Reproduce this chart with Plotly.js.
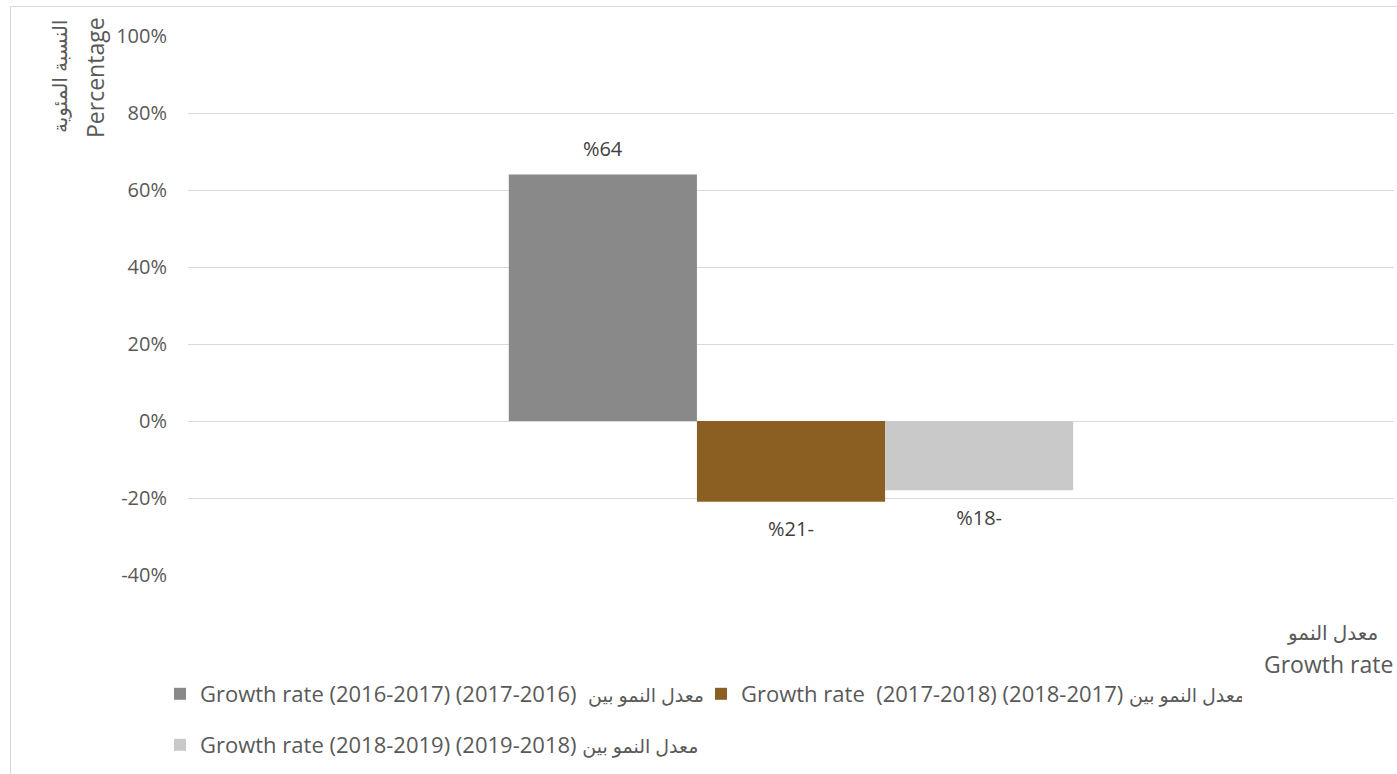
<!DOCTYPE html>
<html>
<head>
<meta charset="utf-8">
<script src="https://cdn.plot.ly/plotly-3.0.1.min.js"></script>
<style>
  html, body { margin: 0; padding: 0; background: #fff; overflow: hidden; }
  #wrap { position: relative; width: 1397px; height: 774px; overflow: hidden; }
  #frame { position: absolute; left: 10px; top: 6px; width: 1400px; height: 800px;
           border: 1px solid #d9d9d9; box-sizing: border-box; pointer-events: none; }
  #chart { position: absolute; left: 0; top: 0; width: 1397px; height: 774px; }
</style>
</head>
<body>
<div id="wrap">
  <div id="chart"></div>
  <div id="frame"></div>
</div>
<script>
// ---- data ----
const categories = ['معدل النمو Growth rate'];
const seriesLatin = [
  'Growth rate (2016-2017) (2017-2016)\u00a0\u00a0',
  'Growth rate\u00a0\u00a0(2017-2018) (2018-2017) ',
  'Growth rate (2018-2019) (2019-2018) '
];
const seriesArabic = ['معدل النمو بين', 'معدل النمو بين', 'معدل النمو بين'];
const growth2016_2017 = [0.64];
const growth2017_2018 = [-0.21];
const growth2018_2019 = [-0.18];
const seriesColors = ['#898989', '#8b5f21', '#c9c9c9'];
const yTickValues = [-0.4, -0.2, 0, 0.2, 0.4, 0.6, 0.8, 1.0];
const yTickLabels = ['-40%', '-20%', '0%', '20%', '40%', '60%', '80%', '100%'];

const FONT = 'Open Sans, DejaVu Sans, sans-serif';

function labelFor(v) {
  const n = Math.round(Math.abs(v) * 100);
  const s = '<span style="font-size:20px">%' + n + (v < 0 ? '-' : '') + '</span>';
  return v >= 0 ? s + '<br>\u00a0' : '\u00a0<br>' + s;
}

const allSeries = [growth2016_2017, growth2017_2018, growth2018_2019];
const traces = allSeries.map((vals, i) => ({
  type: 'bar',
  name: seriesLatin[i] + '<span style="font-size:19px">' + seriesArabic[i] + '</span>',
  x: categories,
  y: vals,
  marker: { color: seriesColors[i], line: { width: 0 } },
  text: vals.map(labelFor),
  textposition: 'outside',
  cliponaxis: false,
  constraintext: 'none',
  outsidetextfont: { family: FONT, size: vals[0] >= 0 ? 10 : 13.5, color: '#404040' },
  hoverinfo: 'skip',
  legend: i < 2 ? 'legend' : 'legend2'
}));

const legendCommon = {
  orientation: 'h',
  xref: 'container', yref: 'container',
  xanchor: 'left', yanchor: 'middle',
  font: { family: FONT, size: 22, color: '#595959' },
  bgcolor: 'rgba(0,0,0,0)',
  itemclick: false, itemdoubleclick: false,
  traceorder: 'normal',
  itemwidth: 30,
  entrywidth: 496
};

const layout = {
  width: 1397, height: 774,
  margin: { l: 188, r: 3, t: 36, b: 199 },
  paper_bgcolor: 'rgba(0,0,0,0)',
  plot_bgcolor: 'rgba(0,0,0,0)',
  barmode: 'group',
  bargap: 0.532,
  bargroupgap: 0,
  showlegend: true,
  font: { family: FONT, color: '#595959' },
  xaxis: {
    showticklabels: false, showgrid: false, zeroline: false, showline: false,
    ticks: ''
  },
  yaxis: {
    range: [-0.4, 1.0],
    tickvals: yTickValues,
    ticktext: yTickLabels,
    showgrid: true, gridcolor: '#d9d9d9', gridwidth: 1,
    zeroline: true, zerolinecolor: '#d9d9d9', zerolinewidth: 1,
    showline: false,
    ticks: '',
    ticklabelstandoff: 20,
    tickfont: { family: FONT, size: 20, color: '#595959' }
  },
  legend: Object.assign({}, legendCommon, { x: 160 / 1397, y: 1 - 694 / 774 }),
  legend2: Object.assign({}, legendCommon, { x: 160 / 1397, y: 1 - 745 / 774 }),
  annotations: [
    { text: 'النسبة المئوية', xref: 'paper', yref: 'paper',
      x: (59 - 188) / 1206, y: 1 + (36 - 77) / 539, textangle: -90,
      showarrow: false, xanchor: 'center', yanchor: 'middle',
      font: { family: FONT, size: 20, color: '#595959' } },
    { text: 'Percentage', xref: 'paper', yref: 'paper',
      x: (95 - 188) / 1206, y: 1 + (36 - 78) / 539, textangle: -90,
      showarrow: false, xanchor: 'center', yanchor: 'middle',
      font: { family: FONT, size: 23, color: '#595959' } },
    { text: 'معدل النمو', xref: 'paper', yref: 'paper',
      x: (1332 - 188) / 1206, y: (575 - 632) / 539,
      showarrow: false, xanchor: 'center', yanchor: 'middle',
      font: { family: FONT, size: 20, color: '#595959' } },
    { text: 'Growth rate', xref: 'paper', yref: 'paper',
      x: (1262 - 188) / 1206, y: (575 - 664) / 539,
      showarrow: false, xanchor: 'left', yanchor: 'middle',
      font: { family: FONT, size: 23, color: '#595959' } }
  ]
};

Plotly.newPlot('chart', traces, layout, { displayModeBar: false, staticPlot: true });
</script>
</body>
</html>
